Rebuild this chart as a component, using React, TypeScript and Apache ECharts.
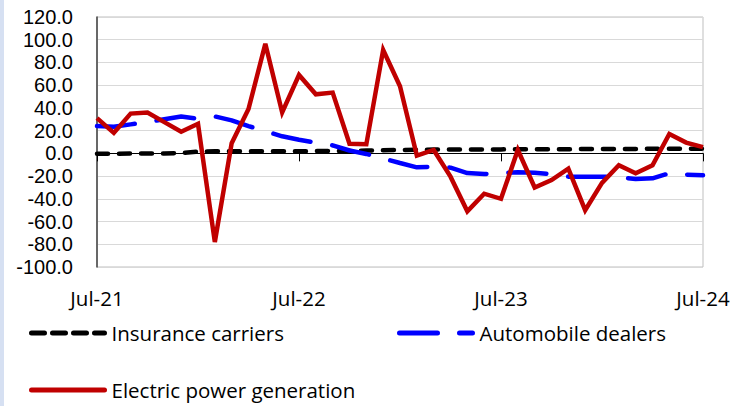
import React, { useEffect, useRef } from "react";
import * as echarts from "echarts";

const months = [
  "Jul-21", "Aug-21", "Sep-21", "Oct-21", "Nov-21", "Dec-21",
  "Jan-22", "Feb-22", "Mar-22", "Apr-22", "May-22", "Jun-22",
  "Jul-22", "Aug-22", "Sep-22", "Oct-22", "Nov-22", "Dec-22",
  "Jan-23", "Feb-23", "Mar-23", "Apr-23", "May-23", "Jun-23",
  "Jul-23", "Aug-23", "Sep-23", "Oct-23", "Nov-23", "Dec-23",
  "Jan-24", "Feb-24", "Mar-24", "Apr-24", "May-24", "Jun-24",
  "Jul-24",
];

const insuranceCarriers = [
  -0.3, -0.3, -0.2, -0.2, -0.1, 0.3, 1.5, 1.8, 1.8, 1.8, 1.8, 1.8,
  1.9, 2.0, 2.0, 2.2, 2.5, 2.8, 3.0, 3.2, 3.3, 3.4, 3.5, 3.5,
  3.5, 3.6, 3.6, 3.7, 3.7, 3.8, 3.8, 3.9, 3.9, 4.0, 4.0, 4.0,
  4.0,
];

const automobileDealers = [
  24, 23.5, 25.5, 27.5, 30, 32.5, 30.5, 32.5, 29, 24, 19.5, 15,
  12, 9.5, 7, 2.5, -0.5, -4.5, -8.5, -12.3, -11.8, -12.6, -17.3, -18.2,
  -17.5, -16.7, -17, -18.4, -20.5, -20.5, -20.5, -21, -22.5, -22, -17.5, -18.7,
  -19.3,
];

const electricPowerGeneration = [
  31, 18, 35, 36, 27.5, 19, 26, -78, 9, 39, 96.5, 36,
  69, 52, 53.5, 8.5, 8, 91, 59, -2, 3, -20.5, -51, -35.5,
  -40, 3, -30, -23.5, -13.5, -50, -26, -10.5, -17.5, -10.5, 17, 9.5,
  5.5,
];

const yTicks = { min: -100, max: 120, interval: 20 };

const FONT = "Open Sans";
const Y_FONT = "Liberation Sans";

export default function App() {
  const ref = useRef<HTMLDivElement>(null);

  useEffect(() => {
    if (!ref.current) return;
    const chart = echarts.init(ref.current, undefined, { renderer: "svg" });
    const legendBase = {
      padding: 0,
      itemWidth: 73,
      itemHeight: 20,
      selectedMode: false,
      itemStyle: { opacity: 0, borderWidth: 0 },
      textStyle: {
        fontSize: 20.5,
        lineHeight: 22,
        color: "#000",
        fontFamily: FONT,
        padding: [0, 0, 0, 2],
      },
    };
    chart.setOption({
      animation: false,
      textStyle: { fontFamily: FONT },
      graphic: [
        {
          type: "rect",
          left: 0,
          top: 0,
          shape: { width: 4, height: 406 },
          style: { fill: "#D6E0F2" },
          silent: true,
        },
      ],
      grid: {
        left: 97,
        top: 17,
        right: 41,
        bottom: 139,
        show: true,
        borderColor: "#BFBFBF",
        borderWidth: 1,
      },
      legend: [
        {
          ...legendBase,
          data: ["Insurance carriers"],
          left: 29,
          top: 322,
          lineStyle: { width: 5, type: [13, 8], cap: "round" },
        },
        {
          ...legendBase,
          data: ["Automobile dealers"],
          left: 397,
          top: 322,
          lineStyle: { width: 5, type: [38, 22], cap: "round" },
        },
        {
          ...legendBase,
          data: ["Electric power generation"],
          left: 29,
          top: 379,
          lineStyle: { width: 5, type: "solid", cap: "round" },
        },
      ],
      xAxis: [
        {
          type: "category",
          data: months,
          boundaryGap: false,
          position: "bottom",
          axisLine: { show: false, onZero: false },
          axisTick: { show: false },
          splitLine: { show: false },
          axisLabel: {
            interval: 11,
            fontSize: 20.5,
            lineHeight: 20,
            color: "#000",
            margin: 21,
            fontFamily: FONT,
          },
        },
        {
          type: "category",
          data: months,
          boundaryGap: false,
          position: "bottom",
          axisLine: { show: true, onZero: true, lineStyle: { color: "#000", width: 1 } },
          axisTick: { show: true, interval: 11, length: 8, lineStyle: { color: "#000", width: 1 } },
          axisLabel: { show: false },
          splitLine: { show: false },
        },
      ],
      yAxis: {
        type: "value",
        min: yTicks.min,
        max: yTicks.max,
        interval: yTicks.interval,
        axisLine: { show: true, lineStyle: { color: "#404040", width: 1.5 } },
        axisTick: { show: false },
        splitLine: { lineStyle: { color: "#D9D9D9", width: 1 } },
        axisLabel: {
          formatter: (v: number) => v.toFixed(1),
          fontSize: 20,
          lineHeight: 20,
          color: "#000",
          margin: 24,
          fontFamily: Y_FONT,
        },
      },
      series: [
        {
          name: "Insurance carriers",
          type: "line",
          data: insuranceCarriers,
          symbol: "none",
          color: "#000000",
          lineStyle: { color: "#000000", width: 4.5, type: [11, 11], cap: "round" },
        },
        {
          name: "Automobile dealers",
          type: "line",
          data: automobileDealers,
          symbol: "none",
          color: "#0000FF",
          lineStyle: { color: "#0000FF", width: 4.5, type: [38, 22], cap: "round" },
        },
        {
          name: "Electric power generation",
          type: "line",
          data: electricPowerGeneration,
          symbol: "none",
          color: "#C00000",
          lineStyle: { color: "#C00000", width: 4.5, type: "solid", join: "miter" },
        },
      ],
    });
    return () => chart.dispose();
  }, []);

  return (
    <div
      ref={ref}
      style={{ position: "fixed", left: 0, top: 0, width: 744, height: 406, background: "#fff" }}
    />
  );
}
